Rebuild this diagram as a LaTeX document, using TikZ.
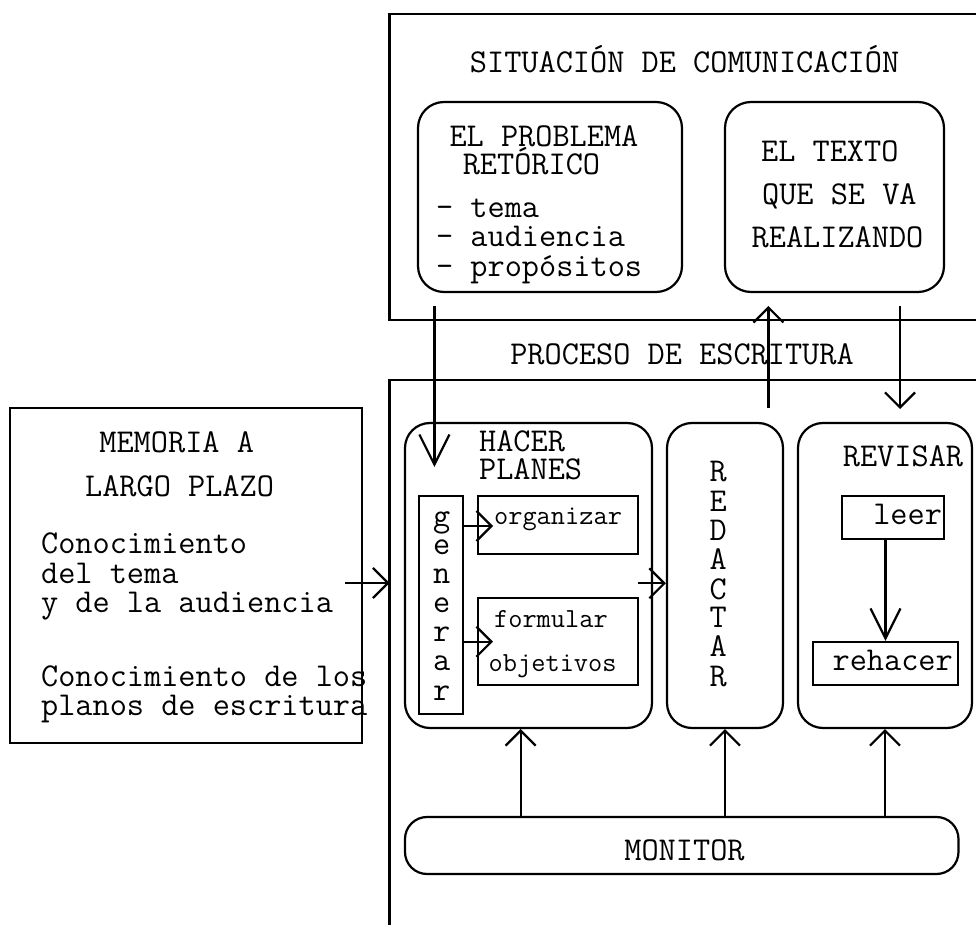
\documentclass[tikz,border=0pt]{standalone}
\usetikzlibrary{arrows.meta}
\begin{document}
\begin{tikzpicture}[x=0.5pt,y=-0.5pt,
  line width=1.1pt, line join=miter,
  rbox/.style={draw, rounded corners=13pt, inner sep=0pt},
  sbox/.style={draw, inner sep=0pt},
  txt/.style={inner sep=0pt, font=\fontsize{16.67}{20}\selectfont\ttfamily},
  small/.style={inner sep=0pt, font=\fontsize{13.8}{16}\selectfont\ttfamily},
  tip/.style={-{Straight Barb[length=7.5pt,width=15pt]}},
  longtip/.style={-{Straight Barb[length=15pt,width=15pt]}},
]
\useasboundingbox (0,0) rectangle (976,925);

% outer frames (open towards the right / bottom)
\draw (985,14) -- (389.5,14) -- (389.5,320) -- (985,320);
\draw (985,380) -- (389.5,380) -- (389.5,935);

% communication situation
\node[txt, anchor=base] (sit) at (684.6,73) {SITUACIÓN DE COMUNICACIÓN};
\node[rbox, minimum width=132pt, minimum height=95pt] (problema) at (550,197) {};
\node[rbox, minimum width=109.5pt, minimum height=95pt] (texto) at (834.5,197) {};
\node[txt, anchor=base west] (p1) at (448.4,147) {EL PROBLEMA};
\node[txt, anchor=base west] (p2) at (461.7,175) {RETÓRICO};
\node[txt, anchor=base west] (p3) at (435,218) {- tema};
\node[txt, anchor=base west] (p4) at (435,247) {- audiencia};
\node[txt, anchor=base west] (p5) at (435,277) {- propósitos};
\node[txt, anchor=base west] (x1) at (760,162) {EL TEXTO};
\node[txt, anchor=base west] (x2) at (761,205) {QUE SE VA};
\node[txt, anchor=base west] (x3) at (750.6,248) {REALIZANDO};

% writing process
\node[txt, anchor=base] (proc) at (682,365) {PROCESO DE ESCRITURA};
\node[rbox, rounded corners=12.5pt, minimum width=123.5pt, minimum height=152.5pt] (hacer) at (528.5,575.5) {};
\node[rbox, rounded corners=12.5pt, minimum width=58pt, minimum height=152.5pt] (redactar) at (725,575.5) {};
\node[rbox, rounded corners=12.5pt, minimum width=87pt, minimum height=152.5pt] (revisar) at (885,575.5) {};
\node[sbox, minimum width=22pt, minimum height=109pt] (generar) at (441,605) {};
\node[sbox, minimum width=80pt, minimum height=29pt] (organizar) at (558,525) {};
\node[sbox, minimum width=80pt, minimum height=43.5pt] (formular) at (558,641.5) {};
\node[sbox, minimum width=51pt, minimum height=21.5pt] (leer) at (893,517.5) {};
\node[sbox, minimum width=72.5pt, minimum height=21.5pt] (rehacer) at (885.5,663.5) {};
\node[rbox, rounded corners=11pt, minimum width=276.75pt, minimum height=28.5pt] (monitor) at (681.75,845.5) {};

\node[txt, anchor=base west] (h1) at (478,452) {HACER};
\node[txt, anchor=base west] (h2) at (478,480) {PLANES};
\node[small, anchor=base west] (o1) at (493,525) {organizar};
\node[small, anchor=base west] (f1) at (493,627) {formular};
\node[small, anchor=base west] (f2) at (487.6,671) {objetivos};
\node[txt, anchor=base west] (r1) at (841.8,467) {REVISAR};
\node[txt, anchor=base west] (l1) at (872.2,525) {leer};
\node[txt, anchor=base west] (rh) at (831.5,670) {rehacer};
\node[txt, anchor=base] (mon) at (684.5,860) {MONITOR};

% vertical words
\foreach \c/\y [count=\i] in {g/526.7, e/554, n/583.3, e/612.7, r/641.7, a/670.7, r/700}
  \node[txt, anchor=base] (g\i) at (441.6,\y) {\c};
\foreach \c/\y [count=\i] in {R/481.7, E/511.7, D/540.7, A/569.3, C/599.3, T/627.7, A/656.7, R/686}
  \node[txt, anchor=base] (d\i) at (718.3,\y) {\c};

% long-term memory
\node[sbox, minimum width=176pt, minimum height=167.5pt] (memoria) at (186,575.5) {};
\node[txt, anchor=base west] (m1) at (98.3,452.3) {MEMORIA A};
\node[txt, anchor=base west] (m2) at (84,496.7) {LARGO PLAZO};
\node[txt, anchor=base west] (m3) at (40,553.3) {Conocimiento};
\node[txt, anchor=base west] (m4) at (40,583.3) {del tema};
\node[txt, anchor=base west] (m5) at (40,612.7) {y de la audiencia};
\node[txt, anchor=base west] (m6) at (40,686) {Conocimiento de los};
\node[txt, anchor=base west] (m7) at (40,715) {planos de escritura};

% connector end points
\coordinate (a1s) at (434.4,306);
\coordinate (a1e) at (434.4,467);
\coordinate (a2s) at (768.4,408);
\coordinate (a2e) at (768.4,306);
\coordinate (a3s) at (900,306);
\coordinate (a3e) at (900,409);
\coordinate (a4s) at (345,583);
\coordinate (a4e) at (389.5,583);
\coordinate (a7s) at (637.7,583.3);

% connectors
\draw[longtip] (a1s) -- (a1e);
\draw[tip] (a2s) -- (a2e);
\draw[tip] (a3s) -- (a3e);
\draw[tip] (a4s) -- (a4e);
\draw[tip] (generar.east |- 0,526) -- (493,526);
\draw[tip] (generar.east |- 0,641.7) -- (493,641.7);
\draw[tip] (a7s) -- (a7s -| redactar.west);
\draw[longtip] (leer.south -| rehacer.north) -- (rehacer.north);
\draw[tip] (monitor.north -| 520.6,0) -- (hacer.south -| 520.6,0);
\draw[tip] (monitor.north -| redactar.south) -- (redactar.south);
\draw[tip] (monitor.north -| revisar.south) -- (revisar.south);
\end{tikzpicture}
\end{document}
